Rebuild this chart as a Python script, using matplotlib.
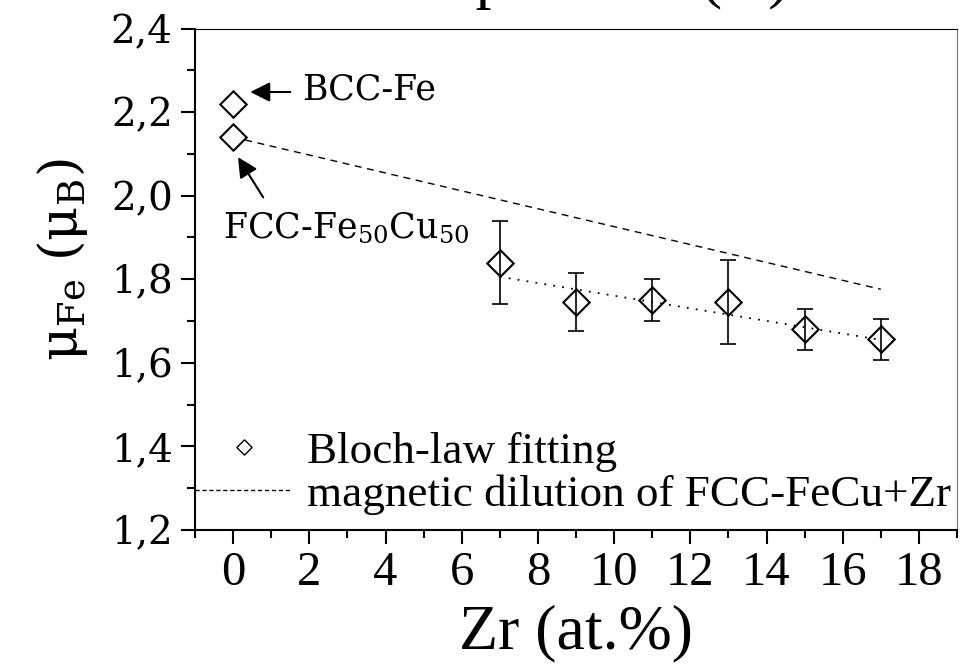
import matplotlib
matplotlib.use("Agg")
import matplotlib.pyplot as plt
from matplotlib.lines import Line2D
from matplotlib.ticker import MultipleLocator, FixedLocator

# Reference phases at 0 % Zr
ref_x = [0, 0]
ref_y = [2.22, 2.14]          # BCC-Fe, FCC-Fe50Cu50

# Bloch-law fitting results
zr = [7, 9, 11, 13, 15, 17]
mu_fe = [1.84, 1.745, 1.75, 1.745, 1.68, 1.656]
mu_err = [0.10, 0.07, 0.05, 0.10, 0.05, 0.05]

# Magnetic dilution of FCC-FeCu by Zr
dil_x = [0, 17]
dil_y = [2.14, 1.776]

# Linear trend through the fitted moments
trend_x = [7, 17]
trend_y = [1.806, 1.655]

x_ticks = [0, 2, 4, 6, 8, 10, 12, 14, 16, 18]
y_ticks = [1.2, 1.4, 1.6, 1.8, 2.0, 2.2, 2.4]
y_tick_labels = ["1,2", "1,4", "1,6", "1,8", "2,0", "2,2", "2,4"]

CENTURY = "DejaVu Serif"
TIMES = "Liberation Serif"
plt.rcParams["mathtext.fontset"] = "dejavuserif"

fig = plt.figure(figsize=(9.72, 6.67), dpi=100)
ax = fig.add_axes([195 / 972, 1 - 530 / 667, (957 - 195) / 972, (530 - 28.5) / 667])

diamond = (4, 0, 0)

ax.plot(dil_x, dil_y, color="black", lw=1.0, ls=(0, (5, 4)), zorder=2)
ax.plot(trend_x, trend_y, color="black", lw=1.3, ls=(0, (1, 4)), zorder=2)

ax.plot(ref_x, ref_y, ls="none", marker=diamond, ms=19, mfc="white",
        mec="black", mew=1.5, zorder=4)
ax.errorbar(zr, mu_fe, yerr=mu_err, fmt="none", ecolor="black",
            elinewidth=1.2, capsize=5.5, capthick=1.2, zorder=3)
ax.plot(zr, mu_fe, ls="none", marker=diamond, ms=19, mfc="none",
        mec="black", mew=1.5, zorder=4)

# Phase labels with arrows
ax.annotate("", xy=(0.45, 2.248), xytext=(1.5, 2.248),
            arrowprops=dict(arrowstyle="-|>", color="black", lw=1.5,
                            mutation_scale=30, shrinkA=0, shrinkB=0))
ax.text(1.82, 2.229, "BCC-Fe", fontsize=25, family=CENTURY,
        ha="left", va="baseline")
ax.annotate("", xy=(0.13, 2.092), xytext=(0.79, 1.996),
            arrowprops=dict(arrowstyle="-|>", color="black", lw=1.5,
                            mutation_scale=30, shrinkA=0, shrinkB=0))
ax.text(-0.26, 1.898, r"FCC-Fe$_{\mathregular{50}}$Cu$_{\mathregular{50}}$",
        fontsize=25, family=CENTURY, ha="left", va="baseline")

ax.set_xlim(-1, 19)
ax.set_ylim(1.2, 2.4)
ax.xaxis.set_major_locator(FixedLocator(x_ticks))
ax.xaxis.set_minor_locator(MultipleLocator(1))
ax.set_yticks(y_ticks)
ax.set_yticklabels(y_tick_labels)
ax.yaxis.set_minor_locator(MultipleLocator(0.1))

for lab in ax.get_xticklabels():
    lab.set_fontfamily(TIMES)
    lab.set_fontsize(35)
for lab in ax.get_yticklabels():
    lab.set_fontfamily(CENTURY)
    lab.set_fontsize(28)

ax.tick_params(which="both", direction="out", top=False, right=False,
               width=1.5, color="black")
ax.tick_params(which="major", length=10)
ax.tick_params(which="minor", length=5.5)
ax.tick_params(axis="x", which="major", pad=5)
ax.tick_params(axis="y", which="major", pad=6)

for side in ("left", "bottom"):
    ax.spines[side].set_linewidth(1.5)
ax.spines["top"].set_linewidth(0.8)
ax.spines["right"].set_linewidth(0.8)
ax.spines["right"].set_color("#777777")

ax.set_xlabel("Zr (at.%)", fontsize=46, family=TIMES, labelpad=7)
fig.text(62 / 972, 1 - 260 / 667, r"μ$_{\mathregular{Fe}}$ (μ$_{\mathregular{B}}$)",
         fontsize=38, family=CENTURY, rotation=90, ha="center", va="center")

# Axis title of the panel above, cut by the figure edge
fig.text(576 / 972, 1 + 4 / 667, "Temperature (K)", fontsize=46, family=TIMES,
         ha="center", va="baseline")

handles = [
    Line2D([], [], ls="none", marker=diamond, ms=11, mfc="white",
           mec="black", mew=1.0),
    Line2D([], [], color="black", lw=1.0, ls=(0, (3, 2))),
]
ax.legend(handles, ["Bloch-law fitting", "magnetic dilution of FCC-FeCu+Zr"],
          loc="lower left", bbox_to_anchor=(0.0, 0.03), frameon=False,
          prop=dict(family=TIMES, size=32.5), handlelength=2.15,
          handletextpad=0.33, borderpad=0, borderaxespad=0,
          labelspacing=0.05)

fig.savefig("out.png", dpi=100)
